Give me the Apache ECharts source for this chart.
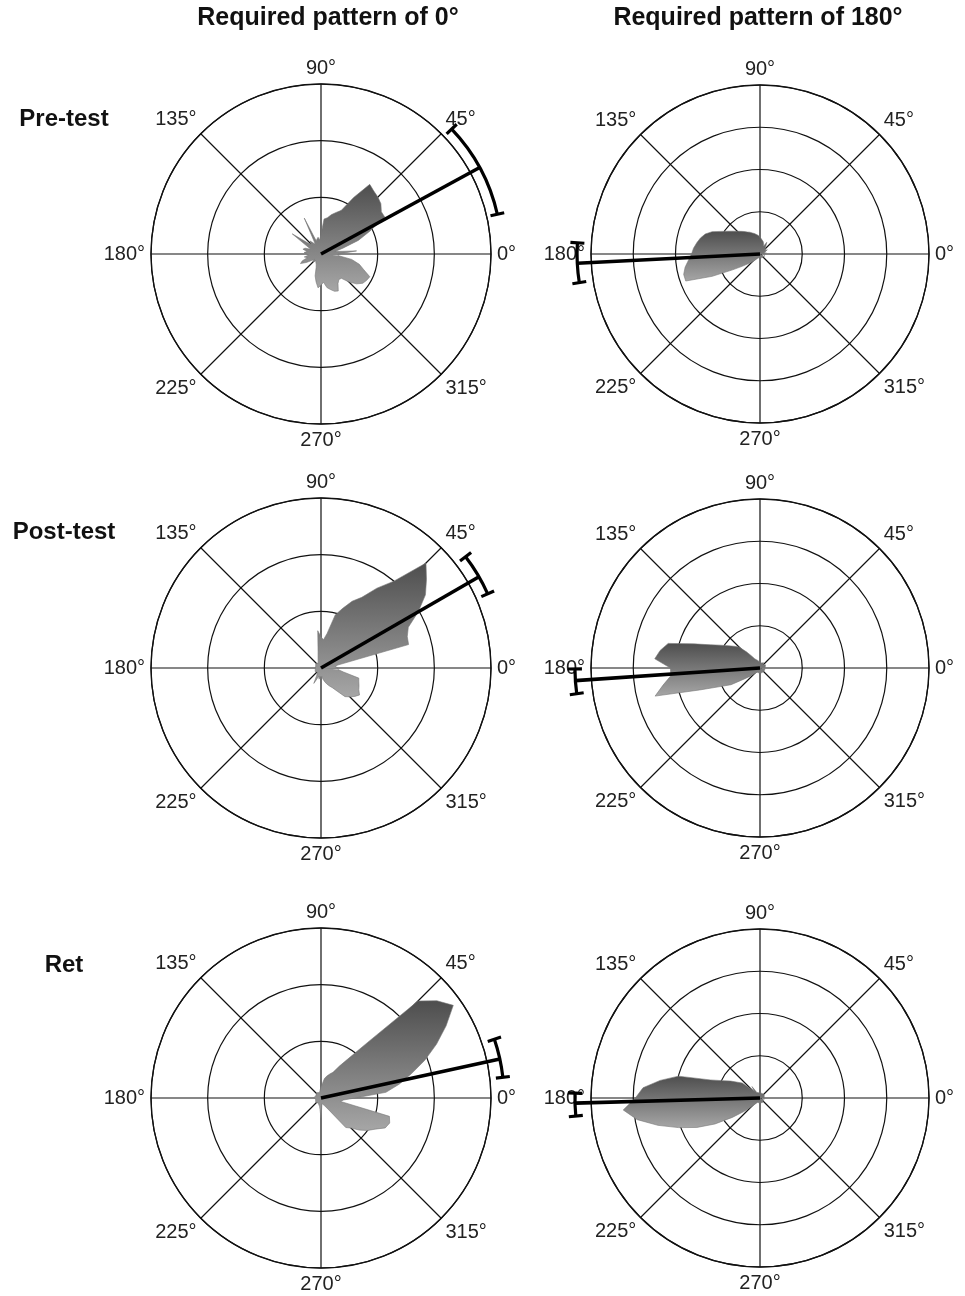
<!DOCTYPE html>
<html>
<head>
<meta charset="UTF-8">
<title>Circular distributions</title>
<script src="https://cdn.jsdelivr.net/npm/echarts@6/dist/echarts.min.js"></script>
<style>
  html, body { margin: 0; padding: 0; background: #fff; }
  #main { width: 965px; height: 1296px; }
</style>
</head>
<body>
<div id="main"></div>
<script>
// bin angles (degrees) of the circular histograms
var binAngles = [0, 5, 10, 15, 20, 25, 30, 35, 40, 45, 50, 55, 60, 65, 70, 75, 80, 85,
  90, 95, 100, 105, 110, 115, 120, 125, 130, 135, 140, 145, 150, 155, 160, 165, 170, 175,
  180, 185, 190, 195, 200, 205, 210, 215, 220, 225, 230, 235, 240, 245, 250, 255, 260, 265,
  270, 275, 280, 285, 290, 295, 300, 305, 310, 315, 320, 325, 330, 335, 340, 345, 350, 355];

// pre-test, required 0 deg
var preZero = [0.3, 0.63, 0.25, 0.4, 0.7, 0.95, 1.3, 1.3, 1.38, 1.42, 1.45, 1.5, 1.15, 0.85, 0.78, 0.72, 0.65, 0.62,
  0.35, 0.25, 0.3, 0.3, 0.25, 0.7, 0.2, 0.2, 0.3, 0.25, 0.3, 0.62, 0.3, 0.2, 0.3, 0.33, 0.25, 0.3,
  0.3, 0.22, 0.3, 0.25, 0.35, 0.4, 0.3, 0.2, 0.15, 0.2, 0.15, 0.12, 0.15, 0.2, 0.25, 0.4, 0.5, 0.6,
  0.55, 0.5, 0.6, 0.65, 0.7, 0.72, 0.6, 0.55, 0.56, 0.7, 0.82, 0.9, 0.93, 0.95, 0.8, 0.7, 0.55, 0.3];
// pre-test, required 180 deg
var preHalf = [0.1, 0.12, 0.15, 0.1, 0.12, 0.15, 0.2, 0.15, 0.18, 0.15, 0.2, 0.25, 0.32, 0.2, 0.25, 0.3, 0.32, 0.36,
  0.4, 0.44, 0.47, 0.5, 0.53, 0.57, 0.6, 0.65, 0.7, 0.76, 0.84, 0.94, 1.07, 1.25, 1.38, 1.46, 1.52, 1.58,
  1.62, 1.7, 1.8, 1.87, 1.87, 1.25, 0.75, 0.5, 0.35, 0.28, 0.2, 0.15, 0.12, 0.1, 0.1, 0.12, 0.1, 0.08,
  0.1, 0.12, 0.1, 0.1, 0.08, 0.1, 0.12, 0.1, 0.1, 0.12, 0.1, 0.08, 0.1, 0.12, 0.1, 0.1, 0.12, 0.1];
// post-test, required 0 deg
var postZero = [0.3, 0.25, 0.3, 1.6, 1.62, 1.7, 1.98, 2.25, 2.43, 2.62, 2.0, 1.72, 1.44, 1.3, 1.12, 0.97, 0.62, 0.5,
  0.55, 0.66, 0.3, 0.2, 0.15, 0.12, 0.1, 0.12, 0.1, 0.1, 0.12, 0.1, 0.1, 0.12, 0.1, 0.1, 0.12, 0.1,
  0.12, 0.1, 0.1, 0.12, 0.1, 0.1, 0.12, 0.1, 0.1, 0.12, 0.1, 0.1, 0.15, 0.3, 0.2, 0.15, 0.2, 0.15,
  0.2, 0.15, 0.2, 0.25, 0.3, 0.35, 0.4, 0.5, 0.66, 0.72, 0.78, 0.83, 0.77, 0.74, 0.71, 0.69, 0.4, 0.3];
// post-test, required 180 deg
var postHalf = [0.12, 0.1, 0.15, 0.1, 0.12, 0.1, 0.15, 0.12, 0.1, 0.12, 0.1, 0.15, 0.12, 0.1, 0.12, 0.15, 0.12, 0.15,
  0.12, 0.15, 0.15, 0.18, 0.2, 0.22, 0.25, 0.35, 0.5, 0.7, 0.8, 0.92, 1.08, 1.3, 1.67, 2.25, 2.4, 2.5,
  2.12, 2.12, 2.33, 2.57, 1.52, 1.04, 0.79, 0.45, 0.3, 0.2, 0.15, 0.12, 0.1, 0.12, 0.1, 0.1, 0.12, 0.1,
  0.1, 0.12, 0.1, 0.1, 0.12, 0.1, 0.1, 0.12, 0.1, 0.1, 0.12, 0.1, 0.1, 0.12, 0.1, 0.1, 0.12, 0.1];
// retention, required 0 deg
var retZero = [0.6, 1.15, 1.4, 1.65, 1.95, 2.25, 2.55, 2.85, 2.67, 2.42, 1.28, 0.86, 0.65, 0.5, 0.45, 0.4, 0.35, 0.25,
  0.2, 0.15, 0.12, 0.1, 0.1, 0.12, 0.1, 0.1, 0.12, 0.1, 0.1, 0.12, 0.1, 0.1, 0.12, 0.1, 0.1, 0.12,
  0.1, 0.1, 0.12, 0.1, 0.1, 0.12, 0.1, 0.1, 0.12, 0.1, 0.1, 0.12, 0.1, 0.1, 0.12, 0.1, 0.15, 0.2,
  0.35, 0.15, 0.1, 0.12, 0.1, 0.15, 0.15, 0.3, 0.68, 0.75, 0.88, 1.0, 1.1, 1.25, 1.29, 1.25, 0.35, 0.4];
// retention, required 180 deg
var retHalf = [0.1, 0.12, 0.1, 0.1, 0.12, 0.1, 0.1, 0.12, 0.1, 0.1, 0.12, 0.1, 0.1, 0.12, 0.1, 0.1, 0.12, 0.1,
  0.12, 0.1, 0.12, 0.1, 0.12, 0.12, 0.15, 0.33, 0.2, 0.3, 0.55, 0.65, 0.8, 0.97, 1.25, 2.0, 2.4, 2.78,
  2.95, 3.25, 2.95, 2.5, 2.05, 1.65, 1.23, 0.8, 0.5, 0.3, 0.2, 0.15, 0.12, 0.1, 0.1, 0.12, 0.1, 0.1,
  0.12, 0.1, 0.1, 0.12, 0.1, 0.1, 0.12, 0.1, 0.1, 0.12, 0.1, 0.1, 0.12, 0.1, 0.1, 0.12, 0.1, 0.1];

// mean direction, its length and confidence limits, in plot order
var meanAngle = [28.6, 182.9, 30, 183.9, 12.3, 181.6];
var meanLength = [3.19, 4.33, 3.22, 4.38, 3.23, 4.38];
var ciLow = [12.7, 176.5, 24, 180.3, 6.5, 178.5];
var ciHigh = [43.7, 189, 37.6, 188, 18.7, 185.6];
var ringCount = [3, 4, 3, 4, 3, 4];

var angleTicks = [0, 45, 90, 135, 180, 225, 270, 315];
var angleLabels = ['0°', '45°', '90°', '135°', '180°', '225°', '270°', '315°'];
var colTitles = ['Required pattern of 0°', 'Required pattern of 180°'];
var rowTitles = ['Pre-test', 'Post-test', 'Ret'];

var roses = [preZero, preHalf, postZero, postHalf, retZero, retHalf];

// layout
var colX = [321, 760];
var rowY = [254, 668, 1098];
var plotR = [170, 169];
var font = '"Liberation Sans", Arial, sans-serif';

var chart = echarts.init(document.getElementById('main'));

var polar = [], angleAxis = [], radiusAxis = [], series = [];

// mean vector + confidence arc with end caps
function renderMean(params, api) {
  var r = api.value(0), lo = api.value(1), hi = api.value(2), m = api.value(3);
  var c = api.coord([0, 0]);
  var p = api.coord([r, lo]);
  var R = Math.sqrt((p[0] - c[0]) * (p[0] - c[0]) + (p[1] - c[1]) * (p[1] - c[1]));
  var tip = api.coord([r, m]);
  var cap = function (a) {
    var q = api.coord([r, a]);
    var ux = (q[0] - c[0]) / R, uy = (q[1] - c[1]) / R;
    return {
      type: 'line',
      shape: { x1: q[0] - ux * 7, y1: q[1] - uy * 7, x2: q[0] + ux * 7, y2: q[1] + uy * 7 },
      style: { stroke: '#000', lineWidth: 3.2 }
    };
  };
  return {
    type: 'group',
    children: [{
      type: 'line',
      shape: { x1: c[0], y1: c[1], x2: tip[0], y2: tip[1] },
      style: { stroke: '#000', lineWidth: 3.6 }
    }, {
      type: 'arc',
      shape: { cx: c[0], cy: c[1], r: R, startAngle: -hi * Math.PI / 180, endAngle: -lo * Math.PI / 180, clockwise: true },
      style: { stroke: '#000', fill: null, lineWidth: 3.2 }
    }, cap(lo), cap(hi)]
  };
}

roses.forEach(function (vals, i) {
  var col = i % 2, row = Math.floor(i / 2);
  polar.push({ center: [colX[col], rowY[row]], radius: plotR[col] });

  angleAxis.push({
    polarIndex: i, type: 'value', min: 0, max: 360, interval: 45,
    startAngle: 0, clockwise: false,
    axisLine: { lineStyle: { color: '#111', width: 1.3 } },
    axisTick: { show: false },
    splitLine: { show: true, lineStyle: { color: '#111', width: 1.2 } },
    axisLabel: {
      margin: 6, color: '#222', fontSize: 20, fontFamily: font,
      formatter: function (v) {
        var k = angleTicks.indexOf(v);
        return k < 0 ? '' : angleLabels[k];
      }
    }
  });
  radiusAxis.push({
    polarIndex: i, type: 'value', min: 0, max: ringCount[i], interval: 1,
    axisLine: { show: false }, axisTick: { show: false }, axisLabel: { show: false },
    splitLine: { lineStyle: { color: '#111', width: 1.2 } }
  });

  var pts = binAngles.map(function (a, k) { return [vals[k], a]; });
  pts.push([vals[0], 360]);

  series.push({
    type: 'line', coordinateSystem: 'polar', polarIndex: i,
    data: pts, symbol: 'none', clip: false, silent: true, z: 2,
    lineStyle: { width: 0.6, color: '#777' },
    areaStyle: {
      opacity: 1,
      color: new echarts.graphic.LinearGradient(0, 0, 0, 1, [
        { offset: 0, color: '#4e4e4e' },
        { offset: 1, color: '#a6a6a6' }
      ])
    }
  });

  series.push({
    type: 'custom', coordinateSystem: 'polar', polarIndex: i, clip: false, silent: true, z: 5,
    data: [[meanLength[i], ciLow[i], ciHigh[i], meanAngle[i]]],
    renderItem: renderMean
  });
});

var texts = [];
colTitles.forEach(function (t, c) {
  texts.push({ type: 'text', x: colX[c] + (c === 0 ? 7 : -2), y: 18,
    style: { text: t, font: 'bold 25px ' + font, fill: '#111', align: 'center', verticalAlign: 'middle' } });
});
var rowLabelY = [119, 532, 965];
rowTitles.forEach(function (t, r) {
  texts.push({ type: 'text', x: 64, y: rowLabelY[r],
    style: { text: t, font: 'bold 24px ' + font, fill: '#111', align: 'center', verticalAlign: 'middle' } });
});

chart.setOption({
  backgroundColor: '#fff',
  animation: false,
  polar: polar,
  angleAxis: angleAxis,
  radiusAxis: radiusAxis,
  series: series,
  graphic: texts
});
</script>
</body>
</html>
